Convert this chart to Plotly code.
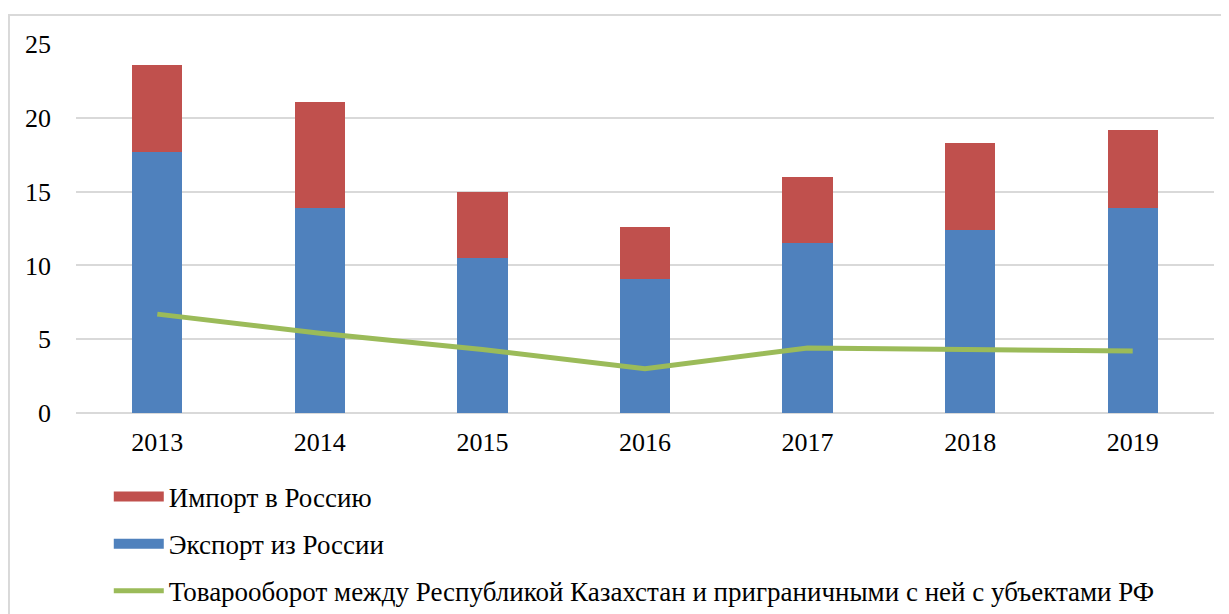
import plotly.graph_objects as go

# данные
years = ['2013', '2014', '2015', '2016', '2017', '2018', '2019']
export_ru = [17.7, 13.9, 10.5, 9.1, 11.5, 12.4, 13.9]
import_ru = [5.9, 7.2, 4.5, 3.5, 4.5, 5.9, 5.3]
turnover = [6.7, 5.4, 4.3, 3.0, 4.4, 4.3, 4.2]

blue = '#4F81BD'
red = '#C0504D'
green = '#9BBB59'
font = 'Liberation Serif'

fig = go.Figure()

fig.add_trace(go.Bar(x=years, y=export_ru, marker_color=blue, marker_line_width=0,
                     name='Экспорт из России', showlegend=False))
fig.add_trace(go.Bar(x=years, y=import_ru, marker_color=red, marker_line_width=0,
                     name='Импорт в Россию', showlegend=False))
fig.add_trace(go.Scatter(x=years, y=turnover, mode='lines', showlegend=False,
                         line=dict(color=green, width=5)))

# легенда (широкие маркеры как в Excel)
legend_items = [('Импорт в Россию', red, 13, 'g1'),
                ('Экспорт из России', blue, 13, 'g2'),
                ('Товарооборот между Республикой Казахстан и приграничными с ней с убъектами РФ', green, 5, 'g3')]
for name, color, w, grp in legend_items:
    fig.add_trace(go.Scatter(x=[None], y=[None], mode='lines', name=name,
                             legendgroup=grp, line=dict(color=color, width=w)))

fig.update_layout(
    width=1229, height=614,
    barmode='stack',
    bargap=0.69,
    plot_bgcolor='white',
    paper_bgcolor='white',
    margin=dict(l=68, r=23, t=36, b=209, autoexpand=False),
    font=dict(family=font, size=26, color='black'),
    legend=dict(
        xref='container', yref='container',
        x=0.082, y=0.2435, xanchor='left', yanchor='top',
        traceorder='grouped', tracegroupgap=9,
        itemwidth=50,
        font=dict(family=font, size=27, color='black'),
    ),
    xaxis=dict(showgrid=False, showline=False, ticks='', tickfont=dict(size=26), tickangle=0,
               ticklabelstandoff=11),
    yaxis=dict(range=[0, 25], dtick=5, showgrid=True, gridcolor='#D9D9D9', gridwidth=1.5,
               zeroline=True, zerolinecolor='#D9D9D9', zerolinewidth=1.5,
               showline=False, ticks='', ticklabelstandoff=24,
               tickfont=dict(size=26)),
    shapes=[dict(type='rect', xref='paper', yref='paper',
                 x0=-0.0589, x1=1.2, y0=-0.7, y1=1.0786,
                 line=dict(color='#D9D9D9', width=2), layer='below')],
)

fig.write_html('out.html')
